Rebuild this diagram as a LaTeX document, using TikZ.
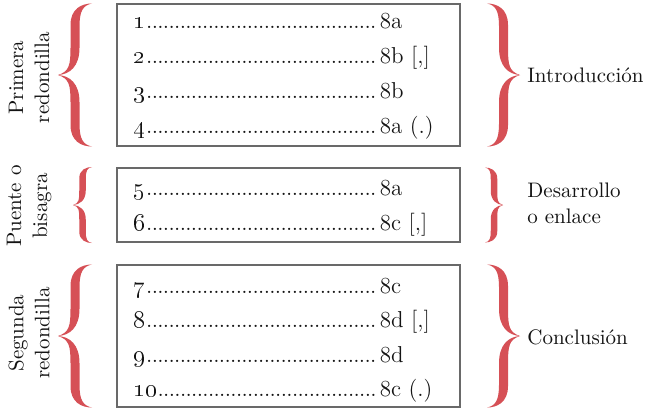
\documentclass[tikz,border=0pt]{standalone}
\definecolor{bracered}{RGB}{214,80,86}
\definecolor{frameline}{RGB}{105,105,105}
\definecolor{ink}{RGB}{20,20,20}

% Calligraphic curly brace: tip at (#1,#2), width #3, half height #4,
% stem thickness #5, direction #6 (1 = opens to the right, -1 = opens to the left)
\newcommand{\curlbrace}[6]{%
  \begin{scope}[shift={(#1,#2)},xscale=#6]
    \pgfmathsetmacro\cw{#3}\pgfmathsetmacro\chh{#4}\pgfmathsetmacro\ct{#5}
    \foreach \s in {1,-1}{
      \begin{scope}[yscale=\s]
        \fill[bracered] (0,0)
          .. controls ({0.33*\cw},{-0.05*\chh}) and ({0.5*\cw-0.5*\ct},{-0.14*\chh}) .. ({0.5*\cw-0.5*\ct},{-0.38*\chh})
          -- ({0.5*\cw-0.5*\ct},{-0.70*\chh})
          .. controls ({0.5*\cw-0.5*\ct},{-0.93*\chh}) and ({0.7*\cw},{-\chh}) .. ({\cw},{-\chh})
          .. controls ({0.74*\cw},{-0.975*\chh}) and ({0.5*\cw+0.5*\ct},{-0.9*\chh}) .. ({0.5*\cw+0.5*\ct},{-0.68*\chh})
          -- ({0.5*\cw+0.5*\ct},{-0.38*\chh})
          .. controls ({0.5*\cw+0.5*\ct},{-0.12*\chh}) and ({0.35*\cw},{-0.01*\chh}) .. (0,0) -- cycle;
      \end{scope}
    }
  \end{scope}}

% One verse line: number, dotted leader, metre and rhyme
\newcommand{\verseentry}[2]{\hbox to 122pt{\oldstylenums{#1}\cleaders\hbox to 2.8pt{\hss.\hss}\hfill}\kern1.2pt #2}

\begin{document}
\begin{tikzpicture}[x=0.5pt,y=-0.5pt,
  frame/.style={draw=frameline,line width=0.65pt},
  versetext/.style={anchor=base west,inner sep=0pt,text=ink,font=\fontsize{11.5}{13}\selectfont},
  sidetext/.style={inner sep=0pt,text=ink,font=\fontsize{10.5}{13}\selectfont},
  sidetextrot/.style={sidetext,rotate=90,align=center}]
\useasboundingbox (0,0) rectangle (652,409);

% frames
\draw[frame] (117,4) rectangle (460,146);
\draw[frame] (117,168) rectangle (460,242);
\draw[frame] (117,265) rectangle (460,407);

% first quatrain
\node[versetext] (v1) at (133,28) {\verseentry{1}{8a}};
\node[versetext] (v2) at (133,63) {\verseentry{2}{8b [,]}};
\node[versetext] (v3) at (133,98) {\verseentry{3}{8b}};
\node[versetext] (v4) at (133,133) {\verseentry{4}{8a (.)}};

% bridge
\node[versetext] (v5) at (133,195) {\verseentry{5}{8a}};
\node[versetext] (v6) at (133,230) {\verseentry{6}{8c [,]}};

% second quatrain
\node[versetext] (v7) at (133,293) {\verseentry{7}{8c}};
\node[versetext] (v8) at (133,327) {\verseentry{8}{8d [,]}};
\node[versetext] (v9) at (133,362) {\verseentry{9}{8d}};
\node[versetext] (v10) at (133,396) {\verseentry{10}{8c (.)}};

% braces
\curlbrace{58}{75}{34}{71.5}{9}{1}
\curlbrace{73}{205}{19}{38}{6.5}{1}
\curlbrace{58}{336}{34}{71.5}{9}{1}
\curlbrace{520}{75}{33}{71.5}{9}{-1}
\curlbrace{503}{205}{18}{37.5}{6.5}{-1}
\curlbrace{520}{336}{33}{71.5}{9}{-1}

% labels on the left
\node[sidetextrot] (l1) at (29,77.5) {Primera\\redondilla};
\node[sidetextrot] (l2) at (29,206) {Puente o\\bisagra};
\node[sidetextrot] (l3) at (29,333) {Segunda\\redondilla};

% labels on the right
\node[sidetext,anchor=base west] (r1) at (527,82) {Introducción};
\node[sidetext,anchor=north west,align=left] (r2) at (527,182.5) {Desarrollo\\o enlace};
\node[sidetext,anchor=base west] (r3) at (527,344) {Conclusión};
\end{tikzpicture}
\end{document}
